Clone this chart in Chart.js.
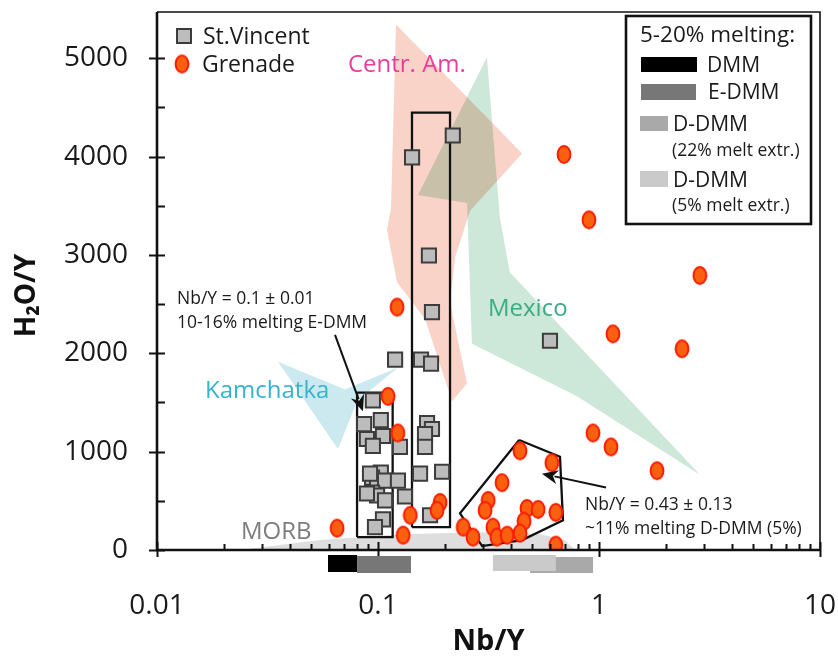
<!DOCTYPE html>
<html><head><meta charset="utf-8">
<script src="https://cdn.jsdelivr.net/npm/chart.js@4/dist/chart.umd.min.js"></script>
<style>html,body{margin:0;padding:0;background:#fff;}canvas{display:block;}</style>
</head><body>
<canvas id="c" width="838" height="656"></canvas>
<script>
// ---------- data ----------
const stVincentNbY  = [0.1426,0.218,0.170,0.1755,0.600,0.1195,0.1566,0.1738,0.0948,0.103,0.0865,0.1053,0.0891,0.0948,0.1257,0.1667,0.1755,0.1632,0.1632,0.103,0.094,0.099,0.1076,0.1231,0.155,0.195,0.094,0.099,0.1076,0.1324,0.1053,0.0969,0.172,0.0891,0.092];
const stVincentH2OY = [3992,4214,2994,2419,2127,1935,1935,1895,1522,1321,1280,1159,1129,1058,1048,1290,1230,1179,1048,786,736,675,706,706,776,796,585,554,504,544,312,232,353,575,776];

const grenadeNbY  = [0.694,0.901,2.86,1.157,2.375,0.940,1.133,1.83,0.122,0.111,0.123,0.0653,0.130,0.140,0.191,0.185,0.439,0.612,0.364,0.315,0.305,0.472,0.530,0.638,0.458,0.331,0.243,0.269,0.345,0.384,0.439,0.638];
const grenadeH2OY = [4022,3357,2792,2198,2046,1190,1048,806,2470,1562,1190,222,151,353,484,403,1008,887,685,504,403,423,413,383,292,232,232,131,131,151,171,50];

const centrAmNbY  = [0.1206,0.449,0.2608,0.2231,0.2118,0.2528,0.2163,0.1632,0.1219,0.1098,0.1145];
const centrAmH2OY = [5343,4032,3448,2974,2520,1694,1512,2349,2722,3256,3478];

const mexicoNbY  = [0.311,0.356,0.395,2.864,0.794,0.266,0.253,0.1518];
const mexicoH2OY = [5010,3377,2823,766,1563,2097,3528,3609];

const kamchatkaNbY  = [0.0353,0.0709,0.1231,0.0804,0.0659];
const kamchatkaH2OY = [1915,1633,1855,1512,1028];

const morbNbY  = [0.0238,0.036,0.0546,0.1257,0.2893,0.541,0.702,0.778];
const morbH2OY = [0,50,101,161,181,161,101,0];

const eDmmBoxNbY  = [0.0804,0.1165];
const eDmmBoxH2OY = [131,1600];
const stVBoxNbY   = [0.1425,0.2118];
const stVBoxH2OY  = [232,4446];

const dDmmFieldNbY  = [0.435,0.666,0.687,0.449,0.296,0.235];
const dDmmFieldH2OY = [1119,948,302,101,40,373];

const meltBarNames = ['DMM','E-DMM','D-DMM (22% melt extr.)','D-DMM (5% melt extr.)'];
const meltBarMin   = [0.0594,0.0804,0.488,0.331];
const meltBarMax   = [0.0804,0.141,0.940,0.638];

const arrowFromNbY  = [0.0639,1.076];
const arrowFromH2OY = [2188,635];
const arrowToNbY    = [0.0855,0.552];
const arrowToH2OY   = [1411,776];

const xTickValues = [0.01,0.02,0.03,0.04,0.05,0.06,0.07,0.08,0.09,0.1,0.2,0.3,0.4,0.5,0.6,0.7,0.8,0.9,1,2,3,4,5,6,7,8,9,10];
const xTickLabels = ['0.01','0.1','1','10'];
const xMajorTicks = [0.01,0.1,1,10];
const yTickValues = [0,500,1000,1500,2000,2500,3000,3500,4000,4500,5000];
const yMajorTicks = [0,1000,2000,3000,4000,5000];

// ---------- helpers ----------
const FONT = '"Open Sans", "DejaVu Sans", sans-serif';
const zip = (xs, ys) => xs.map((x, i) => ({x: x, y: ys[i]}));
const closed = (xs, ys) => { const p = zip(xs, ys); p.push({x: xs[0], y: ys[0]}); return p; };
const rectPts = (xs, ys) => closed([xs[0], xs[0], xs[1], xs[1]], [ys[0], ys[1], ys[1], ys[0]]);

function ellipseMarker() {
  const c = document.createElement('canvas');
  c.width = 16; c.height = 21;
  const g = c.getContext('2d');
  g.beginPath(); g.ellipse(8, 10.5, 6.4, 8.5, 0, 0, Math.PI * 2);
  g.fillStyle = '#fa6010'; g.fill();
  g.lineWidth = 2; g.strokeStyle = '#ff1c00'; g.stroke();
  return c;
}
const grenadeMarker = ellipseMarker();

function field(pts, color, order, extra) {
  return Object.assign({type: 'line', data: pts, backgroundColor: color, borderWidth: 0,
    pointRadius: 0, fill: 'shape', tension: 0, order: order}, extra || {});
}
function outline(pts, order) {
  return {type: 'line', data: pts, borderColor: '#111', borderWidth: 2.3, pointRadius: 0,
    fill: false, tension: 0, order: order};
}
function noPad(s) { s.paddingLeft = 0; s.paddingRight = 0; s.paddingTop = 0; s.paddingBottom = 0; }

const labelDefs = [
  {text: 'Centr. Am.', x: 0.0731, y: 4929, color: '#ec3b9c', size: 24},
  {text: 'Mexico', x: 0.3145, y: 2450, color: '#3aac84', size: 24},
  {text: 'Kamchatka', x: 0.0165, y: 1613, color: '#35b4cf', size: 24},
  {text: 'MORB', x: 0.024, y: 181, color: '#7d7d7d', size: 24},
  {text: 'Nb/Y = 0.1 \u00b1 0.01', x: 0.01232, y: 2550, color: '#1a1a1a', size: 17.5},
  {text: '10-16% melting E-DMM', x: 0.01232, y: 2308, color: '#1a1a1a', size: 17.5},
  {text: 'Nb/Y = 0.43 \u00b1 0.13', x: 0.8643, y: 454, color: '#1a1a1a', size: 17.5},
  {text: '~11% melting D-DMM (5%)', x: 0.8643, y: 212, color: '#1a1a1a', size: 17.5}
];

const deco = {
  id: 'deco',
  beforeDatasetsDraw(chart) { chart.ctx.save(); chart.ctx.globalCompositeOperation = 'multiply'; },
  afterDatasetDraw(chart, args) {
    if (chart.data.datasets[args.index].endBlend) chart.ctx.globalCompositeOperation = 'source-over';
  },
  afterDatasetsDraw(chart) { chart.ctx.restore(); },
  afterDraw(chart) {
    const ctx = chart.ctx, ca = chart.chartArea;
    const xs = chart.scales.x, ys = chart.scales.y;
    ctx.save();
    // frame
    ctx.strokeStyle = '#111';
    ctx.lineWidth = 1.6;
    ctx.beginPath(); ctx.moveTo(ca.left, ca.top); ctx.lineTo(ca.right, ca.top); ctx.lineTo(ca.right, ca.bottom); ctx.stroke();
    ctx.lineWidth = 2.6;
    ctx.beginPath(); ctx.moveTo(ca.left, ca.top); ctx.lineTo(ca.left, ca.bottom); ctx.lineTo(ca.right, ca.bottom); ctx.stroke();
    // ticks
    ctx.lineWidth = 2;
    yTickValues.forEach(v => {
      const py = Math.round(ys.getPixelForValue(v)) + 0.5;
      const major = yMajorTicks.includes(v);
      ctx.beginPath(); ctx.moveTo(ca.left - (major ? 8 : 0), py); ctx.lineTo(ca.left + 8, py); ctx.stroke();
    });
    xTickValues.forEach(v => {
      const px = Math.round(xs.getPixelForValue(v)) + 0.5;
      const major = xMajorTicks.includes(v);
      ctx.beginPath(); ctx.moveTo(px, ca.bottom + (major ? 7 : 0)); ctx.lineTo(px, ca.bottom - (major ? 8 : 6)); ctx.stroke();
    });
    // melting bars below the axis
    const barStyle = [['#000', 5, 17], ['#777', 6, 17], ['#a9a9a9', 7, 16], ['#cacaca', 5, 16]];
    [0, 1, 2, 3].forEach(i => {
      const x0 = xs.getPixelForValue(meltBarMin[i]), x1 = xs.getPixelForValue(meltBarMax[i]);
      ctx.fillStyle = barStyle[i][0];
      ctx.fillRect(x0, ca.bottom + barStyle[i][1], x1 - x0, barStyle[i][2]);
    });
    // arrows
    ctx.strokeStyle = '#111'; ctx.fillStyle = '#111'; ctx.lineWidth = 2;
    arrowFromNbY.forEach((_, i) => {
      const x0 = xs.getPixelForValue(arrowFromNbY[i]), y0 = ys.getPixelForValue(arrowFromH2OY[i]);
      const x1 = xs.getPixelForValue(arrowToNbY[i]), y1 = ys.getPixelForValue(arrowToH2OY[i]);
      const a = Math.atan2(y1 - y0, x1 - x0), L = 16, W = 7;
      ctx.beginPath(); ctx.moveTo(x0, y0); ctx.lineTo(x1 - Math.cos(a) * L * 0.8, y1 - Math.sin(a) * L * 0.8); ctx.stroke();
      ctx.beginPath();
      ctx.moveTo(x1, y1);
      ctx.lineTo(x1 - Math.cos(a) * L + Math.sin(a) * W, y1 - Math.sin(a) * L - Math.cos(a) * W);
      ctx.lineTo(x1 - Math.cos(a) * L * 0.7, y1 - Math.sin(a) * L * 0.7);
      ctx.lineTo(x1 - Math.cos(a) * L - Math.sin(a) * W, y1 - Math.sin(a) * L + Math.cos(a) * W);
      ctx.closePath(); ctx.fill();
    });
    // text labels
    ctx.textBaseline = 'middle'; ctx.textAlign = 'left';
    labelDefs.forEach(d => {
      ctx.font = d.size + 'px ' + FONT; ctx.fillStyle = d.color;
      ctx.fillText(d.text, xs.getPixelForValue(d.x), ys.getPixelForValue(d.y));
    });
    // series legend (top-left)
    const lx = ca.left + 27, ly = ca.top + 24;
    ctx.fillStyle = '#bcbcbc'; ctx.strokeStyle = '#3c3c3c'; ctx.lineWidth = 2;
    ctx.fillRect(lx - 7, ly - 7, 14, 14); ctx.strokeRect(lx - 7, ly - 7, 14, 14);
    ctx.drawImage(grenadeMarker, lx - 2 - grenadeMarker.width / 2, ly + 28 - grenadeMarker.height / 2);
    ctx.fillStyle = '#1a1a1a'; ctx.font = '23px ' + FONT;
    ctx.fillText('St.Vincent', lx + 19, ly + 1);
    ctx.fillText('Grenade', lx + 18, ly + 29);
    // melting legend box (top-right)
    const bx = ca.right - 194, by = ca.top + 4;
    ctx.fillStyle = '#fff'; ctx.fillRect(bx, by, 185, 208);
    ctx.strokeStyle = '#111'; ctx.lineWidth = 2.6; ctx.strokeRect(bx, by, 185, 208);
    ctx.fillStyle = '#1a1a1a'; ctx.font = '22.5px ' + FONT;
    ctx.fillText('5-20% melting:', bx + 14, by + 20);
    ctx.fillStyle = '#000'; ctx.fillRect(bx + 15, by + 41, 56, 15);
    ctx.fillStyle = '#777'; ctx.fillRect(bx + 15, by + 68, 55, 16);
    ctx.fillStyle = '#a9a9a9'; ctx.fillRect(bx + 14, by + 100, 28, 15);
    ctx.fillStyle = '#cacaca'; ctx.fillRect(bx + 14, by + 155, 28, 16);
    ctx.fillStyle = '#1a1a1a'; ctx.font = '21px ' + FONT;
    ctx.fillText('DMM', bx + 81, by + 50);
    ctx.fillText('E-DMM', bx + 82, by + 77);
    ctx.fillText('D-DMM', bx + 47, by + 109);
    ctx.fillText('D-DMM', bx + 47, by + 165);
    ctx.font = '17.5px ' + FONT;
    ctx.fillText('(22% melt extr.)', bx + 46, by + 135);
    ctx.fillText('(5% melt extr.)', bx + 46, by + 190);
    ctx.restore();
  }
};

new Chart(document.getElementById('c'), {
  type: 'scatter',
  data: {
    datasets: [
      {label: 'Grenade', data: zip(grenadeNbY, grenadeH2OY), pointStyle: grenadeMarker, pointRadius: 8, order: 0},
      {label: 'St.Vincent', data: zip(stVincentNbY, stVincentH2OY), pointStyle: 'rect', pointRadius: 10,
        backgroundColor: '#bcbcbc', borderColor: '#3c3c3c', borderWidth: 2, order: 1},
      Object.assign(outline(rectPts(eDmmBoxNbY, eDmmBoxH2OY), 2), {label: 'Nb/Y = 0.1 box'}),
      Object.assign(outline(rectPts(stVBoxNbY, stVBoxH2OY), 2), {label: 'St.Vincent box'}),
      Object.assign(outline(closed(dDmmFieldNbY, dDmmFieldH2OY), 2), {label: 'D-DMM field'}),
      field(closed(morbNbY, morbH2OY), '#dedede', 3, {label: 'MORB', endBlend: true}),
      field(closed(kamchatkaNbY, kamchatkaH2OY), '#cbe9ef', 4, {label: 'Kamchatka'}),
      field(closed(mexicoNbY, mexicoH2OY), '#cde8d8', 4, {label: 'Mexico'}),
      field(closed(centrAmNbY, centrAmH2OY), '#f9d3c8', 4, {label: 'Centr. Am.'})
    ]
  },
  options: {
    responsive: false, animation: false, devicePixelRatio: 1, events: [],
    layout: {padding: {top: 7, right: 18, left: 0, bottom: 0}},
    plugins: {legend: {display: false}, tooltip: {enabled: false}},
    scales: {
      x: {
        type: 'logarithmic', min: 0.01, max: 10, position: 'bottom',
        grid: {display: false, drawTicks: false}, border: {display: false},
        afterBuildTicks: s => { s.ticks = xTickValues.map(v => ({value: v})); },
        afterFit: s => { s.height = 106; noPad(s); },
        ticks: {autoSkip: false, maxRotation: 0, minRotation: 0, padding: 39, color: '#1a1a1a',
          font: {family: FONT, size: 28},
          callback: v => { const k = xMajorTicks.indexOf(v); return k >= 0 ? xTickLabels[k] : ''; }},
        title: {display: true, text: 'Nb/Y', color: '#111', font: {family: FONT, size: 29, weight: 'bold'}, padding: {top: 0, bottom: -3}}
      },
      y: {
        type: 'linear', min: 0, max: 5470,
        grid: {display: false, drawTicks: false}, border: {display: false},
        afterBuildTicks: s => { s.ticks = yTickValues.map(v => ({value: v})); },
        afterFit: s => { s.width = 157; noPad(s); },
        ticks: {autoSkip: false, padding: 29, color: '#1a1a1a', font: {family: FONT, size: 28},
          callback: v => yMajorTicks.includes(v) ? String(v) : ''},
        title: {display: true, text: 'H\u2082O/Y    ', color: '#111', font: {family: FONT, size: 28, weight: 'bold'}, padding: {top: 10, bottom: 0}}
      }
    }
  },
  plugins: [deco]
});
</script>
</body></html>
